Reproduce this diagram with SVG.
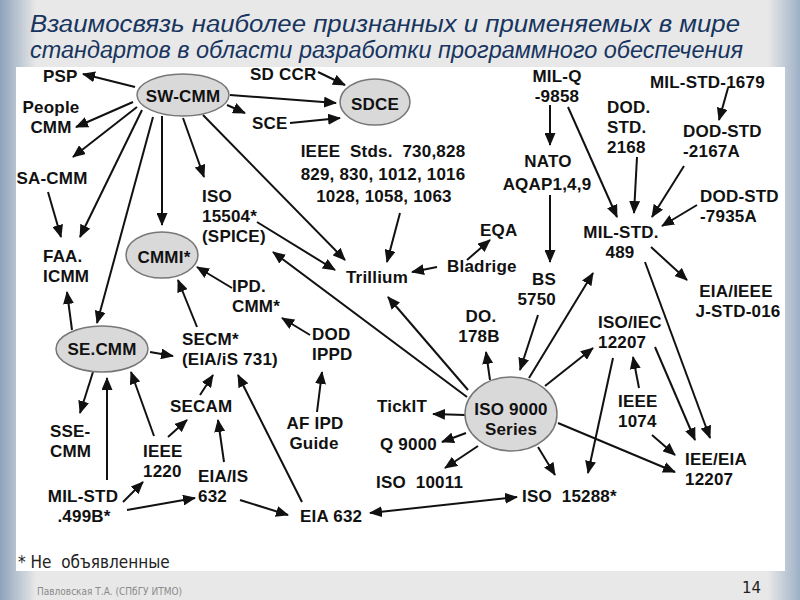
<svg xmlns="http://www.w3.org/2000/svg" width="800" height="600" viewBox="0 0 800 600">
<defs>
<linearGradient id="gl" x1="0" y1="0" x2="1" y2="0"><stop offset="0" stop-color="#8ea3bc"/><stop offset="1" stop-color="#e8e8e8"/></linearGradient>
<linearGradient id="gr" x1="0" y1="0" x2="1" y2="0"><stop offset="0" stop-color="#e8e8e8"/><stop offset="1" stop-color="#9db0c6"/></linearGradient>
<marker id="ah" markerUnits="userSpaceOnUse" markerWidth="13" markerHeight="11" refX="12" refY="5.5" orient="auto-start-reverse"><path d="M0,0 L13,5.5 L0,11 z" fill="#111"/></marker>
<style>
.t{font-family:"Liberation Sans",Arial,sans-serif;font-weight:bold;font-size:17px;letter-spacing:0.2px;fill:#111}
.m{text-anchor:middle}
.e{text-anchor:end}
.el{fill:#d9d9d9;stroke:#777;stroke-width:1.5}
#connectors line{stroke:#111;stroke-width:2;marker-end:url(#ah)}
.title{font-family:"Liberation Sans",Arial,sans-serif;font-style:italic;font-size:23px;fill:#17355f}
</style>
</defs>
<rect width="800" height="600" fill="#e8e8e8"/>
<rect x="0" y="0" width="36" height="600" fill="url(#gl)"/>
<rect x="768" y="0" width="32" height="600" fill="url(#gr)"/>
<rect x="16" y="67" width="769" height="504" fill="#fff"/>
<g id="title">
<text class="title" x="30" y="32" textLength="710" lengthAdjust="spacingAndGlyphs">Взаимосвязь наиболее признанных и применяемых в мире</text>
<text class="title" x="30" y="58" textLength="713" lengthAdjust="spacingAndGlyphs">стандартов в области разработки программного обеспечения</text>
</g>
<g id="connectors">
<line x1="135" y1="87" x2="83" y2="74"/>
<line x1="133" y1="102" x2="76" y2="127"/>
<line x1="137" y1="107" x2="73" y2="157"/>
<line x1="48" y1="192" x2="61" y2="237"/>
<line x1="142" y1="110" x2="80" y2="237"/>
<line x1="153" y1="117" x2="97" y2="323"/>
<line x1="162" y1="116" x2="162" y2="225"/>
<line x1="183" y1="118" x2="204" y2="177"/>
<line x1="203" y1="115" x2="345" y2="260"/>
<line x1="230" y1="95" x2="336" y2="103"/>
<line x1="227" y1="105" x2="245" y2="113"/>
<line x1="318" y1="72" x2="345" y2="85"/>
<line x1="290" y1="123" x2="340" y2="118"/>
<line x1="400" y1="213" x2="387" y2="262"/>
<line x1="257" y1="222" x2="335" y2="270"/>
<line x1="467" y1="397" x2="273" y2="252"/>
<line x1="468" y1="390" x2="388" y2="297"/>
<line x1="437" y1="267" x2="412" y2="272"/>
<line x1="467" y1="260" x2="490" y2="240"/>
<line x1="232" y1="288" x2="197" y2="267"/>
<line x1="197" y1="327" x2="178" y2="280"/>
<line x1="310" y1="335" x2="282" y2="318"/>
<line x1="317" y1="412" x2="322" y2="372"/>
<line x1="72" y1="330" x2="67" y2="292"/>
<line x1="150" y1="352" x2="173" y2="356"/>
<line x1="93" y1="372" x2="80" y2="413"/>
<line x1="107" y1="480" x2="107" y2="378"/>
<line x1="123" y1="502" x2="143" y2="482"/>
<line x1="127" y1="510" x2="195" y2="498"/>
<line x1="154" y1="436" x2="131" y2="372"/>
<line x1="168" y1="437" x2="187" y2="420"/>
<line x1="200" y1="395" x2="213" y2="375"/>
<line x1="224" y1="462" x2="218" y2="420"/>
<line x1="240" y1="500" x2="288" y2="515"/>
<line x1="302" y1="502" x2="238" y2="375"/>
<line x1="370" y1="513" x2="517" y2="497" style="marker-start:url(#ah)"/>
<line x1="465" y1="415" x2="433" y2="414"/>
<line x1="466" y1="433" x2="442" y2="442"/>
<line x1="478" y1="446" x2="445" y2="468"/>
<line x1="538" y1="447" x2="555" y2="475"/>
<line x1="490" y1="380" x2="486" y2="352"/>
<line x1="538" y1="315" x2="520" y2="370"/>
<line x1="529" y1="378" x2="593" y2="273"/>
<line x1="545" y1="386" x2="593" y2="348"/>
<line x1="558" y1="423" x2="675" y2="472"/>
<line x1="613" y1="358" x2="588" y2="473"/>
<line x1="655" y1="347" x2="695" y2="440"/>
<line x1="639" y1="388" x2="633" y2="357"/>
<line x1="652" y1="435" x2="675" y2="455"/>
<line x1="645" y1="262" x2="710" y2="438"/>
<line x1="550" y1="105" x2="550" y2="145"/>
<line x1="550" y1="195" x2="550" y2="262"/>
<line x1="568" y1="107" x2="617" y2="217"/>
<line x1="637" y1="157" x2="634" y2="213"/>
<line x1="728" y1="88" x2="719" y2="120"/>
<line x1="684" y1="166" x2="652" y2="217"/>
<line x1="697" y1="205" x2="662" y2="226"/>
<line x1="651" y1="247" x2="687" y2="280"/>
</g>
<g id="psp"><text class="t" x="43" y="82">PSP</text></g>
<g id="swcmm"><ellipse class="el" cx="183" cy="95" rx="46" ry="21"/><text class="t m" x="183" y="102">SW-CMM</text></g>
<g id="peoplecmm"><text class="t m" x="51" y="113">People</text><text class="t m" x="51" y="133">CMM</text></g>
<g id="sacmm"><text class="t m" x="52" y="184">SA-CMM</text></g>
<g id="faaicmm"><text class="t" x="43" y="262">FAA.</text><text class="t" x="43" y="282">ICMM</text></g>
<g id="cmmi"><ellipse class="el" cx="162" cy="255" rx="36" ry="23"/><text class="t m" x="164" y="263">CMMI*</text></g>
<g id="iso15504"><text class="t" x="202" y="202">ISO</text><text class="t" x="202" y="222">15504*</text><text class="t" x="202" y="242">(SPICE)</text></g>
<g id="sdccr"><text class="t" x="250" y="80">SD CCR</text></g>
<g id="sdce"><ellipse class="el" cx="375" cy="102" rx="35" ry="23"/><text class="t m" x="375" y="110">SDCE</text></g>
<g id="sce"><text class="t" x="252" y="129">SCE</text></g>
<g id="ieeestds"><text class="t m" x="383" y="157" xml:space="preserve">IEEE  Stds.  730,828</text><text class="t m" x="383" y="180">829, 830, 1012, 1016</text><text class="t m" x="384" y="202">1028, 1058, 1063</text></g>
<g id="trillium"><text class="t m" x="377" y="283">Trillium</text></g>
<g id="eqa"><text class="t" x="480" y="236">EQA</text></g>
<g id="bladrige"><text class="t" x="447" y="272">Bladrige</text></g>
<g id="ipdcmm"><text class="t" x="232" y="292">IPD.</text><text class="t" x="232" y="312">CMM*</text></g>
<g id="secm"><text class="t" x="182" y="345">SECM*</text><text class="t" x="182" y="365">(EIA/iS 731)</text></g>
<g id="dodippd"><text class="t" x="312" y="340">DOD</text><text class="t" x="312" y="360">IPPD</text></g>
<g id="afipd"><text class="t m" x="315" y="429">AF IPD</text><text class="t m" x="314" y="449">Guide</text></g>
<g id="secmm"><ellipse class="el" cx="102" cy="349" rx="46" ry="23"/><text class="t m" x="102" y="355">SE.CMM</text></g>
<g id="ssecmm"><text class="t" x="50" y="437">SSE-</text><text class="t" x="50" y="457">CMM</text></g>
<g id="ieee1220"><text class="t" x="143" y="457">IEEE</text><text class="t" x="143" y="477">1220</text></g>
<g id="secam"><text class="t" x="170" y="412">SECAM</text></g>
<g id="milstd499"><text class="t m" x="83" y="502">MIL-STD</text><text class="t m" x="84" y="522">.499B*</text></g>
<g id="eiais632"><text class="t" x="198" y="482">EIA/IS</text><text class="t" x="198" y="502">632</text></g>
<g id="eia632"><text class="t" x="300" y="522">EIA 632</text></g>
<g id="iso15288"><text class="t" x="522" y="502" xml:space="preserve">ISO  15288*</text></g>
<g id="iso9000"><ellipse class="el" cx="511" cy="414" rx="46" ry="37"/><text class="t m" x="511" y="415">ISO 9000</text><text class="t m" x="511" y="435">Series</text></g>
<g id="tickit"><text class="t" x="377" y="412">TickIT</text></g>
<g id="q9000"><text class="t" x="380" y="450">Q 9000</text></g>
<g id="iso10011"><text class="t" x="376" y="488" xml:space="preserve">ISO  10011</text></g>
<g id="do178b"><text class="t m" x="481" y="322">DO.</text><text class="t m" x="479" y="342">178B</text></g>
<g id="bs5750"><text class="t e" x="556" y="285">BS</text><text class="t e" x="556" y="305">5750</text></g>
<g id="isoiec12207"><text class="t" x="598" y="328">ISO/IEC</text><text class="t" x="598" y="348">12207</text></g>
<g id="ieee1074"><text class="t" x="618" y="407">IEEE</text><text class="t" x="618" y="427">1074</text></g>
<g id="ieeeia12207"><text class="t" x="685" y="465">IEE/EIA</text><text class="t" x="685" y="485">12207</text></g>
<g id="milq9858"><text class="t m" x="557" y="82">MIL-Q</text><text class="t m" x="557" y="102">-9858</text></g>
<g id="natoaqap"><text class="t m" x="548" y="167">NATO</text><text class="t m" x="547" y="190">AQAP1,4,9</text></g>
<g id="dodstd2168"><text class="t" x="607" y="113">DOD.</text><text class="t" x="607" y="133">STD.</text><text class="t" x="607" y="153">2168</text></g>
<g id="milstd1679"><text class="t" x="650" y="88">MIL-STD-1679</text></g>
<g id="dodstd2167a"><text class="t" x="683" y="137">DOD-STD</text><text class="t" x="683" y="157">-2167A</text></g>
<g id="dodstd7935a"><text class="t" x="700" y="202">DOD-STD</text><text class="t" x="700" y="222">-7935A</text></g>
<g id="milstd489"><text class="t m" x="621" y="238">MIL-STD.</text><text class="t m" x="620" y="258">489</text></g>
<g id="eiaieee"><text class="t m" x="736" y="297">EIA/IEEE</text><text class="t m" x="738" y="317">J-STD-016</text></g>
<g id="note"><text x="18" y="568" xml:space="preserve" style="font-family:'DejaVu Sans Condensed','DejaVu Sans',sans-serif;font-size:17px;fill:#222">* Не  объявленные</text></g>
<g id="footer">
<text x="37" y="595" style="font-family:'DejaVu Sans Condensed','DejaVu Sans',sans-serif;font-size:10px;fill:#8a8a8a">Павловская Т.А. (СПбГУ ИТМО)</text>
<text x="742" y="593" style="font-family:'DejaVu Sans','Liberation Sans',sans-serif;font-size:15px;fill:#222">14</text>
</g>
</svg>
